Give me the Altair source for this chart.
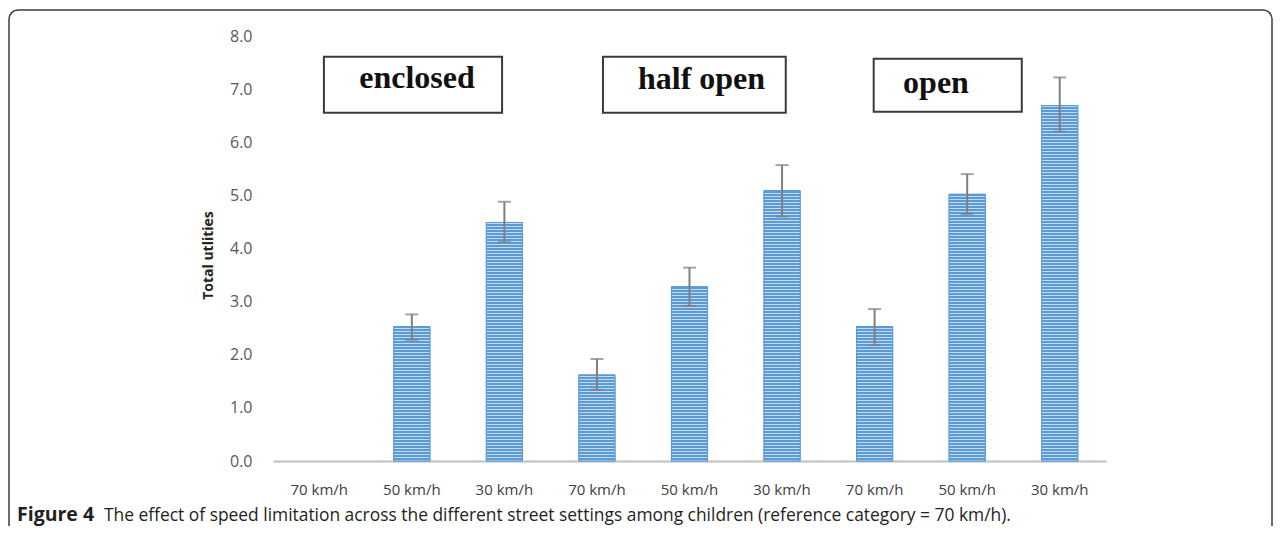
import altair as alt
import pandas as pd

# ---- data ----
groups = ["enclosed", "enclosed", "enclosed",
          "half open", "half open", "half open",
          "open", "open", "open"]
speeds = ["70 km/h", "50 km/h", "30 km/h"] * 3
utilities = [None, 2.53, 4.49, 1.62, 3.28, 5.09, 2.53, 5.02, 6.69]
err_low = [None, 2.28, 4.12, 1.34, 2.92, 4.60, 2.18, 4.65, 6.20]
err_high = [None, 2.76, 4.88, 1.92, 3.64, 5.57, 2.86, 5.40, 7.22]
y_ticks = [0, 1, 2, 3, 4, 5, 6, 7, 8]

# annotation boxes (group labels), in data units of a 0..9 category index axis
box_labels = ["enclosed", "half open", "open"]
box_x1 = [0.55, 3.565, 6.49]
box_x2 = [2.475, 5.54, 8.09]
box_y1 = [7.61, 7.61, 7.57]
box_y2 = [6.555, 6.555, 6.575]
box_tx = [1.556, 4.63, 7.163]
box_ty = [7.025, 7.006, 6.93]

caption_bold = "Figure 4"
caption_rest = ("The effect of speed limitation across the different street settings "
                "among children (reference category = 70 km/h).")

keys = [f"{g}|{s}" for g, s in zip(groups, speeds)]
df = pd.DataFrame({"key": keys, "group": groups, "speed": speeds,
                   "value": utilities, "lo": err_low, "hi": err_high})
df_err = df.dropna()
ann = pd.DataFrame({"label": box_labels, "x1": box_x1, "x2": box_x2,
                    "y1": box_y1, "y2": box_y2, "tx": box_tx, "ty": box_ty})
one = pd.DataFrame({"a": [0]})

W, H = 833, 425
Y_MAX = 8
DARK, LIGHT = "#5B9BD5", "#C3DAF2"
DARK_PX, LIGHT_PX = 2, 1  # hatch pattern, pixels

xcat = alt.X("key:N", sort=keys, title=None,
             scale=alt.Scale(domain=keys, paddingInner=0.61, paddingOuter=0.305),
             axis=alt.Axis(labelExpr="split(datum.label, '|')[1]", labelAngle=0,
                           labelFont="Open Sans", labelFontSize=15, labelColor="#404040",
                           labelPadding=21, ticks=False, domainColor="#BFBFBF",
                           domainWidth=2, grid=False))
yq = alt.Y("value:Q", title="Total utlities",
           scale=alt.Scale(domain=[0, Y_MAX], nice=False),
           axis=alt.Axis(values=y_ticks, format=".1f", ticks=False, domain=False,
                         grid=False, labelFont="Open Sans", labelFontSize=16,
                         labelColor="#595959", labelPadding=21,
                         titleFont="Open Sans", titleFontSize=14, titleFontWeight="bold",
                         titleColor="#262626", titlePadding=14, titleY=219))

base_bars = alt.Chart(df).mark_bar(fill="#7FB1DF", stroke="#5B9BD5", strokeWidth=1).encode(
    x=xcat, y=yq)


def hatch(value):
    """Pixel-aligned horizontal-stripe gradient for a bar (style only)."""
    h = value / Y_MAX * H
    period = DARK_PX + LIGHT_PX
    # boundaries measured from the bar's bottom (which sits on a whole pixel)
    segs = []
    d = 0.0
    while d < h:
        segs.append((d, min(d + LIGHT_PX, h), LIGHT))
        d2 = d + LIGHT_PX
        if d2 < h:
            segs.append((d2, min(d2 + DARK_PX, h), DARK))
        d += period
    stops = []
    for lo, hi, col in reversed(segs):
        stops.append({"offset": max(0.0, 1 - hi / h), "color": col})
        stops.append({"offset": min(1.0, 1 - lo / h), "color": col})
    return {"gradient": "linear", "x1": 0, "y1": 0, "x2": 0, "y2": 1, "stops": stops}


hatched = []
for k, v in zip(keys, utilities):
    if v is None:
        continue
    hatched.append(
        alt.Chart(df).transform_filter(alt.datum.key == k)
        .mark_bar(fill=hatch(v), stroke="#5B9BD5", strokeWidth=1)
        .encode(x=alt.X("key:N", sort=keys), y=alt.Y("value:Q"))
    )

rules = alt.Chart(df_err).mark_rule(color="#7F7F7F", strokeWidth=2).encode(
    x=alt.X("key:N", sort=keys), y=alt.Y("lo:Q"), y2="hi:Q")
cap_hi = alt.Chart(df_err).mark_tick(color="#7F7F7F", thickness=2, size=13).encode(
    x=alt.X("key:N", sort=keys), y=alt.Y("hi:Q"))
cap_lo = alt.Chart(df_err).mark_tick(color="#7F7F7F", thickness=2, size=13).encode(
    x=alt.X("key:N", sort=keys), y=alt.Y("lo:Q"))

main = alt.layer(base_bars, *hatched, rules, cap_hi, cap_lo)

xq = alt.Scale(domain=[0, 9], nice=False, zero=False)
boxes = alt.Chart(ann).mark_rect(fill="white", stroke="#3a3a3a", strokeWidth=2).encode(
    x=alt.X("x1:Q", scale=xq, axis=None), x2="x2:Q",
    y=alt.Y("y1:Q"), y2="y2:Q")
box_text = alt.Chart(ann).mark_text(font="Liberation Serif", fontWeight="bold",
                                    fontSize=32, color="#111111", baseline="alphabetic",
                                    align="center").encode(
    x=alt.X("tx:Q", scale=xq, axis=None), y=alt.Y("ty:Q"), text="label:N")

frame = alt.Chart(one).mark_rect(fill=None, stroke="#3c3c3c", strokeWidth=1.5,
                                 cornerRadius=9).encode(
    x=alt.value(-264), x2=alt.value(999), y=alt.value(-26), y2=alt.value(560))
cap1 = alt.Chart(one).mark_text(text=caption_bold, font="Open Sans", fontWeight="bold",
                                fontSize=19.5, color="#231f20", align="left",
                                baseline="alphabetic").encode(
    x=alt.value(-256), y=alt.value(485))
cap2 = alt.Chart(one).mark_text(text=caption_rest, font="Open Sans", fontSize=17.4,
                                color="#231f20", align="left",
                                baseline="alphabetic").encode(
    x=alt.value(-169), y=alt.value(485))

chart = alt.layer(main, boxes, box_text, frame, cap1, cap2).resolve_scale(
    x="independent").properties(
    width=W, height=H,
    background="white",
    autosize=alt.AutoSizeParams(type="none"),
    padding={"left": 265, "top": 28, "right": 167, "bottom": 65},
).configure_view(stroke=None, strokeWidth=0)

chart.save("out.html", embed_options={"renderer": "svg", "actions": False})
